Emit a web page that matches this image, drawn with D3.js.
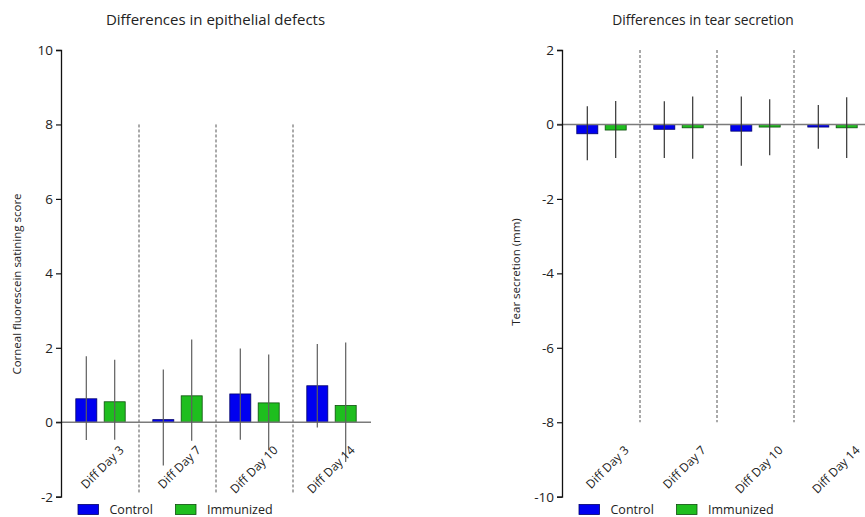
<!DOCTYPE html>
<html>
<head>
<meta charset="utf-8">
<script src="https://cdn.jsdelivr.net/npm/d3@7"></script>
<style>
  html, body { margin: 0; padding: 0; background: #fff; }
  svg { display: block; }
  text { font-family: "Open Sans", "DejaVu Sans", sans-serif; fill: #222; }
</style>
</head>
<body>
<svg id="chart" width="865" height="517"></svg>
<script>
// Shared categories and series
const days = ["Diff Day 3", "Diff Day 7", "Diff Day 10", "Diff Day 14"];
const groups = ["Control", "Immunized"];
const groupColors = ["#0000f0", "#1ebe1e"];
const groupStrokes = ["#00006a", "#0d4f0d"];

// Epithelial defects (corneal fluorescein staining score)
const epiTicks = [-2, 0, 2, 4, 6, 8, 10];
const epiControlMean = [0.63, 0.07, 0.76, 0.98];
const epiControlHigh = [1.77, 1.42, 1.98, 2.10];
const epiControlLow  = [-0.48, -1.16, -0.47, -0.14];
const epiImmunMean = [0.55, 0.71, 0.52, 0.45];
const epiImmunHigh = [1.68, 2.22, 1.82, 2.14];
const epiImmunLow  = [-0.47, -0.50, -0.75, -1.07];

// Tear secretion (mm)
const tearTicks = [-10, -8, -6, -4, -2, 0, 2];
const tearControlMean = [-0.25, -0.13, -0.18, -0.07];
const tearControlHigh = [0.49, 0.62, 0.75, 0.52];
const tearControlLow  = [-0.96, -0.90, -1.11, -0.65];
const tearImmunMean = [-0.15, -0.09, -0.07, -0.09];
const tearImmunHigh = [0.63, 0.75, 0.68, 0.73];
const tearImmunLow  = [-0.90, -0.92, -0.83, -0.90];

const svg = d3.select("#chart");

function panel(opts) {
  const g = svg.append("g");
  const x0 = opts.axisX;
  const y = d3.scaleLinear().domain(opts.domain).range([496.7, 50]);
  const xGroup = d3.scaleBand().domain(days).range([x0 + 1, x0 + 309]).paddingInner(0).paddingOuter(0);
  const xSub = d3.scaleBand().domain(groups).range([0, xGroup.bandwidth()])
    .paddingInner(0.26).paddingOuter(0.486);

  const rows = [];
  days.forEach((d, i) => {
    opts.series.forEach((s, j) => {
      rows.push({ day: d, grp: groups[j], j, mean: s.mean[i], hi: s.high[i], lo: s.low[i] });
    });
  });

  // Dashed separators between days
  g.selectAll("line.sep").data(days.slice(1)).join("line")
    .attr("class", "sep")
    .attr("x1", d => xGroup(d)).attr("x2", d => xGroup(d))
    .attr("y1", y(opts.sepRange[0])).attr("y2", y(opts.sepRange[1]))
    .attr("stroke", "#555").attr("stroke-width", 1).attr("stroke-dasharray", "3,2");

  // Bars
  g.selectAll("rect.bar").data(rows).join("rect")
    .attr("class", "bar")
    .attr("x", d => xGroup(d.day) + xSub(d.grp))
    .attr("width", xSub.bandwidth())
    .attr("y", d => y(Math.max(0, d.mean)))
    .attr("height", d => Math.abs(y(d.mean) - y(0)))
    .attr("fill", d => groupColors[d.j])
    .attr("stroke", d => groupStrokes[d.j])
    .attr("stroke-width", 0.8);

  // Zero line
  g.append("line")
    .attr("x1", x0 - 5).attr("x2", opts.zeroEnd)
    .attr("y1", y(0)).attr("y2", y(0))
    .attr("stroke", "#7a7a7a").attr("stroke-width", 1.5);

  // Error bars
  g.selectAll("line.err").data(rows).join("line")
    .attr("class", "err")
    .attr("x1", d => xGroup(d.day) + xSub(d.grp) + xSub.bandwidth() / 2)
    .attr("x2", d => xGroup(d.day) + xSub(d.grp) + xSub.bandwidth() / 2)
    .attr("y1", d => y(d.hi)).attr("y2", d => y(d.lo))
    .attr("stroke", opts.errColor).attr("stroke-width", 1.2);

  // Y axis (plain hyphen for negatives)
  const axis = g.append("g")
    .attr("transform", `translate(${x0},0)`)
    .call(d3.axisLeft(y).tickValues(opts.ticks).tickSize(5).tickPadding(3).tickFormat(d => String(d)));
  axis.select(".domain").attr("stroke", "#111").attr("stroke-width", 1.3);
  axis.selectAll(".tick line").attr("stroke", "#111").attr("stroke-width", 1.2);
  axis.selectAll(".tick text")
    .style("font-family", '"Open Sans", sans-serif').style("font-size", "13.5px").attr("fill", "#333");

  // Category labels
  g.selectAll("text.cat").data(days).join("text")
    .attr("class", "cat")
    .attr("transform", d => `translate(${xGroup(d) + xGroup.bandwidth() / 2 + opts.labelDx},451) rotate(-45)`)
    .attr("text-anchor", "end")
    .style("font-size", "12px")
    .text(d => d);

  // Titles
  g.append("text")
    .attr("x", opts.titleX).attr("y", 25)
    .attr("text-anchor", "middle")
    .style("font-size", opts.titleSize)
    .text(opts.title);

  g.append("text")
    .attr("transform", `translate(${opts.yTitleX},${opts.yTitleY}) rotate(-90)`)
    .attr("text-anchor", "middle")
    .style("font-size", "11.5px")
    .text(opts.yTitle);

  // Legend
  const leg = g.append("g").attr("transform", `translate(${x0 + 17},504.5)`);
  groups.forEach((name, j) => {
    const lx = j * 97.5;
    leg.append("rect")
      .attr("x", lx).attr("y", 0).attr("width", 20.5).attr("height", 10)
      .attr("fill", groupColors[j]).attr("stroke", groupStrokes[j]).attr("stroke-width", 0.8);
    leg.append("text")
      .attr("x", lx + 31.5).attr("y", 9.5)
      .style("font-size", "12.5px")
      .text(name);
  });
}

panel({
  axisX: 61,
  domain: [-2, 10],
  ticks: epiTicks,
  sepRange: [8, -1.9],
  zeroEnd: 371,
  errColor: "#5e5e5e",
  labelDx: 24,
  title: "Differences in epithelial defects",
  titleSize: "15px",
  titleX: 215.5,
  yTitle: "Corneal fluorescein satining score",
  yTitleX: 21,
  yTitleY: 284,
  series: [
    { mean: epiControlMean, high: epiControlHigh, low: epiControlLow },
    { mean: epiImmunMean, high: epiImmunHigh, low: epiImmunLow }
  ]
});

panel({
  axisX: 562,
  domain: [-10, 2],
  ticks: tearTicks,
  sepRange: [2, -8],
  zeroEnd: 870,
  errColor: "#333",
  labelDx: 28,
  title: "Differences in tear secretion",
  titleSize: "13.8px",
  titleX: 703,
  yTitle: "Tear secretion (mm)",
  yTitleX: 520,
  yTitleY: 272,
  series: [
    { mean: tearControlMean, high: tearControlHigh, low: tearControlLow },
    { mean: tearImmunMean, high: tearImmunHigh, low: tearImmunLow }
  ]
});
</script>
</body>
</html>
